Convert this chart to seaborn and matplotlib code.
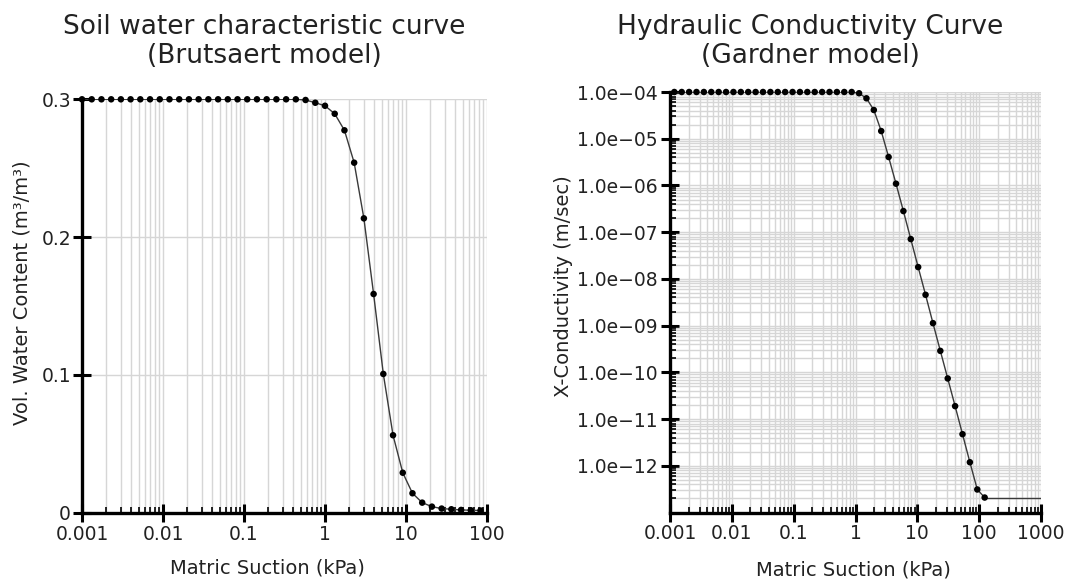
import matplotlib
matplotlib.use("Agg")
import matplotlib.pyplot as plt
import seaborn as sns
import numpy as np
import pandas as pd
from matplotlib.ticker import LogLocator, NullFormatter, FixedLocator

# ---------------- data ----------------
swcc_suction = [0.001, 0.001318, 0.001738, 0.002291, 0.00302, 0.003981, 0.005248, 0.006918,
                0.00912, 0.01202, 0.01585, 0.02089, 0.02754, 0.03631, 0.04786, 0.0631,
                0.08318, 0.1096, 0.1445, 0.1905, 0.2512, 0.3311, 0.4365, 0.5754, 0.7586,
                1.0, 1.318, 1.738, 2.291, 3.020, 3.981, 5.248, 6.918, 9.120, 12.02, 15.85,
                20.89, 27.54, 36.31, 47.86, 63.10, 83.18]
swcc_theta = [0.300] * 23 + [0.2995, 0.2975, 0.2953, 0.2895, 0.2775, 0.254, 0.2136, 0.1587,
                             0.1007, 0.0562, 0.0290, 0.0141, 0.0073, 0.0044, 0.0030, 0.0025,
                             0.0020, 0.0018, 0.0016]

hcc_suction = [0.001175, 0.001547, 0.002037, 0.002682, 0.003532, 0.00465, 0.006124, 0.008064,
               0.01062, 0.01398, 0.01841, 0.02424, 0.03192, 0.04203, 0.05534, 0.07286,
               0.09594, 0.1263, 0.1663, 0.2190, 0.2884, 0.3797, 0.5000, 0.6584, 0.8670,
               1.142, 1.503, 1.979, 2.606, 3.431, 4.519, 5.950, 7.834, 10.31, 13.58, 17.89,
               23.55, 31.01, 40.83, 53.77, 70.79, 93.22, 122.7]
hcc_k = [1.0e-4] * 25 + [9.4e-5, 7.33e-5, 4.12e-5, 1.46e-5, 4.06e-6, 1.09e-6, 2.83e-7, 7.11e-8,
                         1.79e-8, 4.57e-9, 1.13e-9, 2.88e-10, 7.40e-11, 1.89e-11, 4.75e-12,
                         1.19e-12, 3.11e-13, 2.09e-13]
hcc_tail_suction = [122.7, 1000.0]
hcc_tail_k = [2.09e-13, 2.09e-13]

swcc_xticks = [0.001, 0.01, 0.1, 1, 10, 100]
swcc_xlabels = ["0.001", "0.01", "0.1", "1", "10", "100"]
swcc_yticks = [0, 0.1, 0.2, 0.3]
swcc_ylabels = ["0", "0.1", "0.2", "0.3"]
hcc_xticks = [0.001, 0.01, 0.1, 1, 10, 100, 1000]
hcc_xlabels = ["0.001", "0.01", "0.1", "1", "10", "100", "1000"]
hcc_yticks = [1e-12, 1e-11, 1e-10, 1e-9, 1e-8, 1e-7, 1e-6, 1e-5, 1e-4]
hcc_ylabels = ["1.0e\u221212", "1.0e\u221211", "1.0e\u221210", "1.0e\u221209", "1.0e\u221208",
               "1.0e\u221207", "1.0e\u221206", "1.0e\u221205", "1.0e\u221204"]

swcc_df = pd.DataFrame({"suction": swcc_suction, "theta": swcc_theta})
hcc_df = pd.DataFrame({"suction": hcc_suction, "k": hcc_k})
tail_df = pd.DataFrame({"suction": hcc_tail_suction, "k": hcc_tail_k})

# ---------------- style ----------------
sns.set_theme(style="white")
plt.rcParams["font.family"] = ["DejaVu Sans"]
TXT = "#222222"
GRID = "#d6d6d6"

W, H = 1068, 579
fig = plt.figure(figsize=(W / 100, H / 100), dpi=100)
fig.patch.set_facecolor("white")

ax1 = fig.add_axes([82 / W, 1 - 512.7 / H, (487 - 82) / W, (512.7 - 99.3) / H])
ax2 = fig.add_axes([670 / W, 1 - 512.5 / H, (1041 - 670) / W, (512.5 - 92) / H])

for ax in (ax1, ax2):
    ax.set_facecolor("white")
    ax.set_axisbelow(True)
    for s in ("top", "right"):
        ax.spines[s].set_visible(False)
    for s in ("left", "bottom"):
        ax.spines[s].set_color("black")
        ax.spines[s].set_linewidth(2.4)

# ---- left: SWCC ----
ax1.set_xscale("log")
sns.lineplot(data=swcc_df, x="suction", y="theta", ax=ax1, color="#3a3a3a", lw=1.0,
             estimator=None, sort=False)
sns.scatterplot(data=swcc_df, x="suction", y="theta", ax=ax1, color="black", s=22,
                edgecolor="none", clip_on=False, zorder=5)
ax1.set_xlim(1e-3, 100)
ax1.set_ylim(0, 0.3)
ax1.set_xticks(swcc_xticks, swcc_xlabels)
ax1.xaxis.set_minor_locator(LogLocator(base=10, subs=np.arange(2, 10), numticks=100))
ax1.xaxis.set_minor_formatter(NullFormatter())
ax1.set_yticks(swcc_yticks, swcc_ylabels)
ax1.grid(True, which="both", axis="x", color=GRID, lw=1)
ax1.grid(True, which="major", axis="y", color=GRID, lw=1)

# ---- right: HCC ----
ax2.set_xscale("log")
ax2.set_yscale("log")
sns.lineplot(data=hcc_df, x="suction", y="k", ax=ax2, color="#3a3a3a", lw=1.0,
             estimator=None, sort=False)
sns.lineplot(data=tail_df, x="suction", y="k", ax=ax2, color="#3a3a3a", lw=1.0,
             estimator=None, sort=False)
sns.scatterplot(data=hcc_df, x="suction", y="k", ax=ax2, color="black", s=22,
                edgecolor="none", clip_on=False, zorder=5)
ax2.set_xlim(1e-3, 1e3)
ax2.set_ylim(1e-13, 1e-4)
ax2.set_xticks(hcc_xticks, hcc_xlabels)
ax2.xaxis.set_minor_locator(LogLocator(base=10, subs=np.arange(2, 10), numticks=100))
ax2.xaxis.set_minor_formatter(NullFormatter())
ax2.yaxis.set_major_locator(FixedLocator(hcc_yticks))
ax2.set_yticks(hcc_yticks, hcc_ylabels)
ax2.yaxis.set_minor_locator(LogLocator(base=10, subs=np.arange(2, 10), numticks=100))
ax2.yaxis.set_minor_formatter(NullFormatter())
ax2.grid(True, which="both", axis="both", color=GRID, lw=1)

for ax in (ax1, ax2):
    ax.tick_params(which="major", direction="inout", length=13, width=2.2, color="black",
                   labelsize=13.5, labelcolor=TXT, bottom=True, left=True)
    ax.tick_params(which="minor", direction="in", length=4, width=1.2, color="black",
                   bottom=True, left=True)
    ax.tick_params(axis="x", which="major", pad=2)
ax1.tick_params(axis="y", which="major", pad=1.5)
ax1.tick_params(axis="y", which="minor", left=False)
ax2.tick_params(axis="y", which="major", pad=2.6)

# axis labels
ax1.set_xlabel("Matric Suction (kPa)", fontsize=14, color=TXT)
ax1.xaxis.set_label_coords((267 - 82) / 405, (512.7 - 559) / 413.4)
ax1.set_ylabel("Vol. Water Content (m\u00b3/m\u00b3)", fontsize=14, color=TXT)
ax1.yaxis.set_label_coords((32 - 82) / 405, (512.7 - 292.5) / 413.4)

ax2.set_xlabel("Matric Suction (kPa)", fontsize=14, color=TXT)
ax2.xaxis.set_label_coords((853.7 - 670) / 371, (512.5 - 561) / 420.5)
ax2.set_ylabel("X-Conductivity (m/sec)", fontsize=14, color=TXT)
ax2.yaxis.set_label_coords((573.3 - 670) / 371, (512.5 - 285.8) / 420.5)

# titles
fig.text(264 / W, 1 - 34 / H, "Soil water characteristic curve", ha="center",
         va="baseline", fontsize=19, color=TXT)
fig.text(264 / W, 1 - 63 / H, "(Brutsaert model)", ha="center", va="baseline",
         fontsize=19, color=TXT)
fig.text(810 / W, 1 - 34 / H, "Hydraulic Conductivity Curve", ha="center",
         va="baseline", fontsize=19, color=TXT)
fig.text(810 / W, 1 - 63 / H, "(Gardner model)", ha="center", va="baseline",
         fontsize=19, color=TXT)

fig.savefig("out.png", dpi=100, facecolor="white")
